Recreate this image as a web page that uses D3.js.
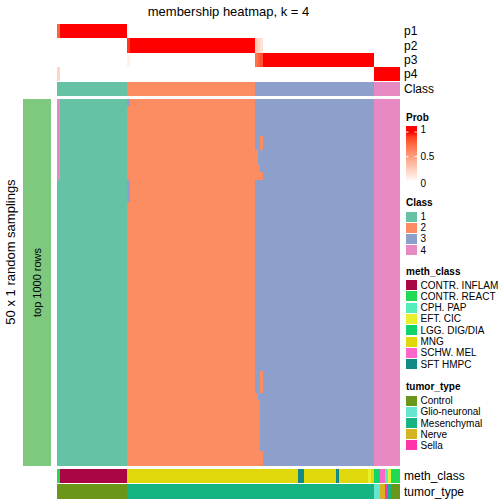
<!DOCTYPE html>
<html><head><meta charset="utf-8">
<script src="https://cdn.jsdelivr.net/npm/d3@7/dist/d3.min.js"></script>
<style>body{margin:0;background:#fff}svg{display:block}text{font-family:"Liberation Sans",Arial,sans-serif;fill:#000}</style>
</head><body><div id="chart"></div>
<script>
// ---------- data ----------
const classRuns = [[1,24],[2,44],[3,41],[4,9]];           // consensus class per column (run-length)
const probRows = ["p1","p2","p3","p4"];
const probExceptions = [                                    // columns whose membership prob is not 1
  {col:0,  p:[0.78,0,0,0.22]},
  {col:24, p:[0,0.92,0.08,0]},
  {col:68, p:[0,0.28,0.72,0]},
  {col:69, p:[0,0.22,0.78,0]},
  {col:70, p:[0,0.16,0.84,0]}
];
const nSamplings = 50;
const memberDeviations = [                                 // sampling rows that disagree with consensus
  {col:0,  from:0,  to:10, cls:4},
  {col:24, from:0,  to:0,  cls:3},
  {col:24, from:11, to:13, cls:3},
  {col:70, from:5,  to:6,  cls:2},
  {col:68, from:7,  to:10, cls:2},
  {col:69, from:9,  to:10, cls:2},
  {col:70, from:10, to:10, cls:2},
  {col:70, from:37, to:39, cls:2},
  {col:68, from:40, to:49, cls:2},
  {col:69, from:41, to:49, cls:2},
  {col:70, from:48, to:49, cls:2}
];
const methRuns = [["CONTR. REACT",1],["CONTR. INFLAM",23],["MNG",59],["SFT HMPC",2],["MNG",11],["SFT HMPC",1],
  ["MNG",10],["EFT. CIC",1],["MNG",1],["LGG. DIG/DIA",2],["SCHW. MEL",2],["CPH. PAP",1],["EFT. CIC",1],["CONTR. REACT",3]];
const tumorRuns = [["Control",24],["Mesenchymal",85],["Glio-neuronal",2],["Nerve",2],["Sella",1],["Mesenchymal",1],["Control",3]];

const classLevels = ["1","2","3","4"];
const classColors = ["#66c2a5","#fc8d62","#8da0cb","#e78ac3"];
const methLevels = ["CONTR. INFLAM","CONTR. REACT","CPH. PAP","EFT. CIC","LGG. DIG/DIA","MNG","SCHW. MEL","SFT HMPC"];
const methColors = ["#aa0545","#22d954","#55eebb","#e6f02c","#10d36b","#dfd90c","#ff66c9","#128a86"];
const tumorLevels = ["Control","Glio-neuronal","Mesenchymal","Nerve","Sella"];
const tumorColors = ["#6a9619","#66e5d0","#16b482","#d4b521","#ff33aa"];
const probTicks = [0,0.5,1];

// ---------- derived ----------
const expand = runs => runs.flatMap(([v,n]) => Array(n).fill(v));
const cls = expand(classRuns);
const N = cls.length;
const meth = expand(methRuns);
const tumor = expand(tumorRuns);
const probs = cls.map((c,i) => { const e = probExceptions.find(d=>d.col===i); return e ? e.p : [1,2,3,4].map(k=>k===c?1:0); });
const member = d3.range(nSamplings).map(r => cls.map((c,i) => {
  const d = memberDeviations.find(d => d.col===i && r>=d.from && r<=d.to); return d ? d.cls : c; }));

// ---------- scales ----------
const x = d3.scaleBand().domain(d3.range(N)).range([57,400]);
const yProb = d3.scaleBand().domain(probRows).range([24,81]);
const yBody = d3.scaleBand().domain(d3.range(nSamplings)).range([99,466]);
const probColor = d3.scaleLinear().domain([0,1]).range(["#ffffff","#ff0000"]).interpolate(d3.interpolateLab);
const classColor = d3.scaleOrdinal().domain(classLevels).range(classColors);
const methColor = d3.scaleOrdinal().domain(methLevels).range(methColors);
const tumorColor = d3.scaleOrdinal().domain(tumorLevels).range(tumorColors);

const svg = d3.select("#chart").append("svg").attr("width",504).attr("height",504);
const g = svg.append("g").attr("shape-rendering","crispEdges");

// title
svg.append("text").attr("x",228.5).attr("y",16).attr("text-anchor","middle").attr("font-size",13).text("membership heatmap, k = 4");

// prob rows
probRows.forEach((p,k) => {
  g.selectAll(null).data(d3.range(N)).join("rect")
    .attr("x",i=>x(i)).attr("width",x.bandwidth()+0.3)
    .attr("y",yProb(p)).attr("height",yProb.bandwidth()+0.3)
    .attr("fill",i=>probColor(probs[i][k]));
  svg.append("text").attr("x",404).attr("y",yProb(p)+yProb.bandwidth()/2).attr("dy","0.35em").attr("font-size",12).text(p);
});
// class row
g.selectAll(null).data(d3.range(N)).join("rect")
  .attr("x",i=>x(i)).attr("width",x.bandwidth()+0.3).attr("y",82).attr("height",14)
  .attr("fill",i=>classColor(String(cls[i])));
svg.append("text").attr("x",404).attr("y",89).attr("dy","0.35em").attr("font-size",12).text("Class");

// body
member.forEach((row,r) => {
  g.selectAll(null).data(row).join("rect")
    .attr("x",(d,i)=>x(i)).attr("width",x.bandwidth()+0.3)
    .attr("y",yBody(r)).attr("height",yBody.bandwidth()+0.3)
    .attr("fill",d=>classColor(String(d)));
});

// left annotation
g.append("rect").attr("x",23).attr("y",99).attr("width",28).attr("height",367).attr("fill","#7fc97f");
svg.append("text").attr("transform","translate(37,282.5) rotate(-90)").attr("text-anchor","middle").attr("dy","0.35em").attr("font-size",11).text("top 1000 rows");
svg.append("text").attr("transform","translate(10,252) rotate(-90)").attr("text-anchor","middle").attr("dy","0.35em").attr("font-size",13).text("50 x 1 random samplings");

// bottom annotations
g.selectAll(null).data(meth).join("rect")
  .attr("x",(d,i)=>x(i)).attr("width",x.bandwidth()+0.3).attr("y",469).attr("height",14).attr("fill",d=>methColor(d));
g.selectAll(null).data(tumor).join("rect")
  .attr("x",(d,i)=>x(i)).attr("width",x.bandwidth()+0.3).attr("y",484).attr("height",15).attr("fill",d=>tumorColor(d));
svg.append("text").attr("x",404).attr("y",476).attr("dy","0.35em").attr("font-size",12).text("meth_class");
svg.append("text").attr("x",404).attr("y",491.5).attr("dy","0.35em").attr("font-size",12).text("tumor_type");

// ---------- legends ----------
const L = svg.append("g");
L.append("text").attr("x",406).attr("y",121).attr("font-size",10).attr("font-weight","bold").text("Prob");
const grad = svg.append("defs").append("linearGradient").attr("id","pg").attr("x1",0).attr("x2",0).attr("y1",1).attr("y2",0);
d3.range(0,1.0001,0.1).forEach(t => grad.append("stop").attr("offset",t).attr("stop-color",probColor(t)));
const yLeg = d3.scaleLinear().domain([0,1]).range([181.4,132]);
L.append("rect").attr("x",406).attr("y",126).attr("width",11).attr("height",6).attr("fill","#ff0000");
L.append("rect").attr("x",406).attr("y",132).attr("width",11).attr("height",50).attr("fill","url(#pg)");
probTicks.forEach(t => {
  L.append("text").attr("x",420.5).attr("y",yLeg(t)+(t===1?-3:t===0?2.5:0)).attr("dy","0.35em").attr("font-size",10).text(t);
  if (t>0) {
    L.append("line").attr("x1",406).attr("x2",408.5).attr("y1",yLeg(t)).attr("y2",yLeg(t)).attr("stroke","#fff").attr("stroke-width",1);
    L.append("line").attr("x1",414.5).attr("x2",417).attr("y1",yLeg(t)).attr("y2",yLeg(t)).attr("stroke","#fff").attr("stroke-width",1);
  }
});
function discreteLegend(title, titleY, levels, colors, firstCenter, step){
  L.append("text").attr("x",406).attr("y",titleY).attr("font-size",10).attr("font-weight","bold").text(title);
  levels.forEach((lv,i) => {
    const cy = firstCenter + i*step;
    L.append("rect").attr("x",406).attr("y",cy-5).attr("width",11).attr("height",10).attr("fill",colors[i]).attr("shape-rendering","crispEdges");
    L.append("text").attr("x",420.5).attr("y",cy).attr("dy","0.35em").attr("font-size",10).text(lv);
  });
}
discreteLegend("Class",206,classLevels,classColors,216.7,11.1);
discreteLegend("meth_class",275,methLevels,methColors,285,11.3);
discreteLegend("tumor_type",390,tumorLevels,tumorColors,400.7,11.15);
</script></body></html>
